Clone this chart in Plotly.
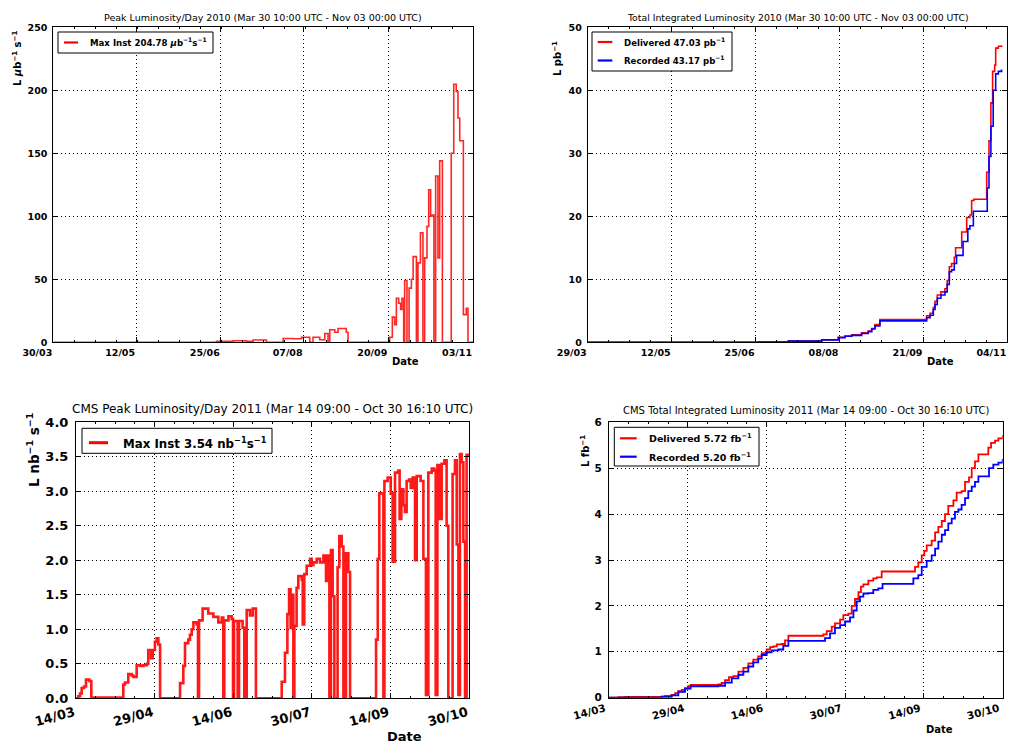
import pandas as pd
import plotly.graph_objects as go

W, H = 1010, 745
FONT = "DejaVu Sans"

# ---------------- data ----------------
# 2010 peak luminosity per day (days since 30 Mar 2010, value in microbarn^-1 s^-1)
peak10_start = "2010-03-30"
peak10_day = [0, 84.8, 93.4, 100.3, 103.8, 110.7, 119.4, 124.6, 128.9, 133.2, 134.9, 138.4,
              141.0, 142.7, 143.6, 146.2, 147.9, 152.2, 153.1, 174.7, 176.1, 177.3, 178.2,
              179.4, 180.4, 181.1, 182.0, 182.5, 183.7, 184.8, 186.0, 186.9, 188.6, 189.4,
              190.7, 192.0, 192.9, 194.1, 195.0, 196.0, 196.7, 197.7, 198.6, 199.8, 200.7,
              202.1, 206.7, 208.0, 209.3, 210.2, 211.1, 213.0, 214.5, 215.4, 218.0]
peak10_val = [0, 0.8, 1.2, 0.8, 1.8, 0, 3, 2.8, 4, 0, 4, 2,
              7, 0, 10, 8, 11, 8, 0, 4, 20, 14, 35,
              31, 26, 35, 0, 49, 0, 43, 50, 68, 0, 63,
              87, 0, 67, 92, 121, 100, 101, 0, 132, 67, 144,
              0, 150, 204.78, 199, 178, 160, 22, 27, 0, 0]

# 2010 integrated luminosity (days since 29 Mar 2010, pb^-1)
int10_start = "2010-03-29"
int10_del_day = [0, 89.5, 105.2, 122.7, 131.4, 134.9, 138.4, 143.6, 147.1, 148.9, 150.6, 153.2,
                 177.7, 179.5, 181.2, 182.1, 183.3, 185.2, 187.3, 188.5, 189.6, 190.8, 192.2,
                 192.9, 196.1, 198.7, 200.4, 201.3, 202.5, 209.2, 210.4, 211.4, 212.3, 213.4,
                 213.9, 215.3, 217.0, 217.4]
int10_del_val = [0, 0.02, 0.2, 0.4, 0.8, 1.0, 1.2, 1.5, 1.8, 2.2, 2.8, 3.6,
                 4.2, 4.6, 5.5, 6.5, 7.5, 8.0, 8.5, 9.8, 12.0, 12.5, 13.5,
                 15.0, 17.5, 19.8, 20.2, 22.5, 22.7, 27.0, 32.0, 38.0, 43.0, 44.0,
                 46.7, 47.0, 47.03, 47.03]
int10_rec_day = [0, 89.5, 105.2, 122.7, 131.4, 134.9, 138.4, 143.6, 147.1, 148.9, 150.6, 153.2,
                 177.7, 179.5, 181.2, 182.1, 183.3, 185.2, 187.3, 188.5, 189.6, 190.8, 192.2,
                 193.4, 196.8, 199.3, 200.4, 202.2, 209.5, 210.4, 211.4, 212.6, 213.9, 215.3,
                 217.0, 217.4]
int10_rec_val = [0, 0.02, 0.18, 0.38, 0.75, 0.95, 1.1, 1.4, 1.7, 2.1, 2.6, 3.4,
                 3.9, 4.3, 5.2, 6.0, 7.0, 7.5, 8.0, 9.2, 11.2, 11.5, 12.5,
                 13.8, 16.0, 18.0, 18.5, 20.8, 24.5, 29.5, 34.3, 40.0, 42.6, 43.0,
                 43.17, 43.17]

# 2011 peak luminosity per day (days since 14 Mar 2011, nb^-1 s^-1)
peak11_start = "2011-03-14"
peak11_day = [0, 1.37, 2.34, 3.32, 4.68, 5.85, 7.8, 8.97, 27.7, 28.7, 30.6, 32.6, 33.6, 35.5,
              37.5, 39.4, 41.4, 42.3, 43.9, 44.9, 46.2, 47.2, 48.2, 49.2, 60.9, 62.8, 63.8,
              65.7, 66.7, 67.7, 68.7, 70.6, 71.4, 72.0, 74.1, 77.4, 80.4, 83.3, 85.3, 86.2,
              86.8, 89.2, 91.1, 91.9, 92.5, 94.6, 95.4, 97.5, 98.5, 99.9, 101.8, 103.4, 105.3,
              120.4, 122.3, 123.7, 124.7, 125.6, 126.4, 127.2, 127.8, 129.1, 130.1, 132.1,
              132.7, 133.6, 135.0, 137.0, 137.9, 138.9, 140.9, 142.8, 144.8, 146.3, 147.3,
              148.3, 149.2, 150.2, 151.2, 153.1, 154.1, 155.5, 156.5, 158.0, 159.4, 160.4,
              175.6, 176.6, 177.5, 179.9, 180.5, 182.4, 184.2, 185.3, 186.7, 188.6, 189.4,
              190.4, 191.6, 192.5, 193.5, 194.9, 195.9, 197.0, 198.4, 199.4, 201.7, 203.3,
              204.8, 206.2, 208.2, 209.7, 210.5, 211.5, 213.0, 214.0, 215.6, 216.9, 217.9,
              220.4, 221.8, 222.8, 223.8, 224.7, 225.7, 226.7, 227.7, 228.6, 230.0]
peak11_val = [0, 0.03, 0.07, 0.15, 0.17, 0.27, 0.25, 0.01, 0.2, 0.23, 0.35, 0.33, 0.31, 0.48,
              0.47, 0.48, 0.5, 0.7, 0.58, 0.7, 0.82, 0.87, 0.78, 0.0, 0.22, 0.47, 0.8,
              0.85, 0.92, 1.0, 1.1, 1.07, 0.0, 1.13, 1.3, 1.23, 1.18, 1.1, 1.17, 0.0,
              1.13, 1.19, 1.15, 0.0, 1.12, 0.0, 1.12, 1.02, 0.0, 1.28, 1.2, 1.3, 0.0,
              0.24, 0.66, 1.22, 1.58, 1.02, 1.5, 0.0, 1.05, 1.6, 1.77, 1.72,
              1.07, 1.8, 1.92, 2.02, 1.93, 1.97, 2.02, 1.97, 2.07, 1.7, 2.07,
              0.0, 2.15, 1.48, 0.0, 1.9, 2.35, 2.2, 0.0, 2.1, 1.83, 0.0,
              0.85, 2.02, 2.97, 0.0, 3.15, 3.2, 2.97, 1.98, 3.27, 3.3, 2.6,
              3.03, 2.8, 2.7, 3.15, 3.17, 3.05, 3.2, 2.0, 3.22, 3.15, 2.02,
              0.05, 3.27, 3.33, 3.3, 0.05, 3.38, 2.6, 3.4, 3.45, 2.5, 0.0,
              3.25, 3.45, 2.23, 0.05, 3.54, 3.42, 2.27, 0.0, 3.53, 3.53]

# 2011 integrated luminosity (days since 14 Mar 2011, fb^-1)
int11_start = "2011-03-14"
int11_del_day = [0, 5.5, 9.3, 30.8, 32.7, 36.6, 38.6, 40.5, 42.5, 44.4, 46.3, 47.7, 63.9, 65.8,
                 67.8, 70.1, 72.6, 75.6, 78.5, 81.4, 84.3, 87.2, 89.2, 92.1, 94.1, 96.0, 98.0,
                 100.9, 102.8, 104.8, 123.3, 125.2, 127.2, 130.1, 132.0, 135.0, 136.9, 139.8,
                 141.8, 143.7, 145.7, 147.2, 148.6, 151.5, 154.4, 156.4, 159.3, 176.8, 178.8,
                 180.7, 182.7, 184.2, 185.6, 188.5, 190.5, 192.4, 194.4, 196.3, 198.2, 201.2,
                 203.1, 206.0, 208.0, 210.3, 211.9, 213.8, 215.8, 220.6, 221.6, 223.2, 225.5,
                 227.5, 230.0]
int11_del_val = [0, 0.01, 0.02, 0.03, 0.04, 0.06, 0.1, 0.14, 0.17, 0.2, 0.25, 0.28, 0.29, 0.32,
                 0.38, 0.45, 0.47, 0.57, 0.65, 0.75, 0.83, 0.9, 0.97, 1.05, 1.1, 1.12, 1.16,
                 1.17, 1.25, 1.35, 1.35, 1.38, 1.45, 1.55, 1.62, 1.7, 1.8, 1.83,
                 2.0, 2.15, 2.3, 2.42, 2.47, 2.55, 2.6, 2.62, 2.75, 2.75, 2.85,
                 2.95, 3.1, 3.2, 3.32, 3.42, 3.6, 3.72, 3.85, 4.0, 4.18, 4.3,
                 4.47, 4.5, 4.7, 4.8, 5.0, 5.15, 5.3, 5.3, 5.45, 5.55, 5.6,
                 5.65, 5.72]
int11_rec_day = [0, 30.8, 36.6, 40.5, 44.4, 47.7, 63.9, 67.8, 71.7, 75.6, 78.5, 81.4, 84.3,
                 87.2, 89.2, 92.1, 95.0, 98.9, 101.8, 104.8, 123.3, 126.2, 129.1, 132.0, 135.0,
                 137.9, 140.8, 142.8, 144.7, 146.6, 148.6, 151.5, 154.4, 157.3, 159.8, 175.9,
                 177.8, 180.7, 182.7, 185.6, 188.5, 190.5, 192.4, 194.4, 196.3, 198.2, 200.2,
                 202.1, 204.1, 206.0, 208.0, 209.9, 211.9, 213.8, 215.8, 220.6, 222.0, 224.5,
                 227.5, 230.0]
int11_rec_val = [0, 0.02, 0.05, 0.13, 0.2, 0.25, 0.26, 0.33, 0.42, 0.5, 0.57, 0.68, 0.77,
                 0.85, 0.93, 0.99, 1.03, 1.05, 1.13, 1.24, 1.24, 1.3, 1.4, 1.52, 1.58,
                 1.66, 1.75, 1.9, 2.1, 2.2, 2.27, 2.28, 2.35, 2.38, 2.48, 2.48,
                 2.6, 2.67, 2.85, 2.98, 3.1, 3.25, 3.4, 3.55, 3.65, 3.8, 3.9,
                 4.05, 4.1, 4.2, 4.35, 4.5, 4.6, 4.7, 4.82, 4.82, 5.0, 5.08,
                 5.12, 5.2]

# tick dates
ticks_peak10 = ["2010-03-30", "2010-05-12", "2010-06-25", "2010-08-07", "2010-09-20", "2010-11-03"]
ticks_int10 = ["2010-03-29", "2010-05-12", "2010-06-25", "2010-08-08", "2010-09-21", "2010-11-04"]
ticks_2011 = ["2011-03-14", "2011-04-29", "2011-06-14", "2011-07-30", "2011-09-14", "2011-10-30"]

titles = ["Peak Luminosity/Day 2010 (Mar 30 10:00 UTC - Nov 03 00:00 UTC)",
          "Total Integrated Luminosity 2010 (Mar 30 10:00 UTC - Nov 03 00:00 UTC)",
          "CMS Peak Luminosity/Day 2011 (Mar 14 09:00 - Oct 30 16:10 UTC)",
          "CMS Total Integrated Luminosity 2011 (Mar 14 09:00 - Oct 30 16:10 UTC)"]
legend_peak10 = ["Max Inst 204.78 <i>μ</i>b<sup>−1</sup>s<sup>−1</sup>"]
legend_int10 = ["Delivered 47.03 pb<sup>−1</sup>", "Recorded 43.17 pb<sup>−1</sup>"]
legend_peak11 = ["Max Inst 3.54 nb<sup>−1</sup>s<sup>−1</sup>"]
legend_int11 = ["Delivered 5.72 fb<sup>−1</sup>", "Recorded 5.20 fb<sup>−1</sup>"]

RED, BLUE = "#ff0000", "#0000ff"


def to_dates(start, days):
    t0 = pd.Timestamp(start)
    return [t0 + pd.Timedelta(days=d) for d in days]


def px(x):
    return x / W


def py(y):
    return 1 - y / H


fig = go.Figure()
fig.add_trace(go.Scatter(x=to_dates(peak10_start, peak10_day), y=peak10_val, mode="lines",
                         line=dict(color="rgba(255,0,0,0.85)", width=1.6, shape="hv"),
                         name=legend_peak10[0], xaxis="x", yaxis="y"))
fig.add_trace(go.Scatter(x=to_dates(int10_start, int10_del_day), y=int10_del_val, mode="lines",
                         line=dict(color=RED, width=1.6, shape="hv"),
                         name=legend_int10[0], xaxis="x2", yaxis="y2"))
fig.add_trace(go.Scatter(x=to_dates(int10_start, int10_rec_day), y=int10_rec_val, mode="lines",
                         line=dict(color=BLUE, width=1.6, shape="hv"),
                         name=legend_int10[1], xaxis="x2", yaxis="y2"))
fig.add_trace(go.Scatter(x=to_dates(peak11_start, peak11_day), y=peak11_val, mode="lines",
                         line=dict(color="rgba(255,0,0,0.9)", width=2.6, shape="hv"),
                         name=legend_peak11[0], xaxis="x3", yaxis="y3"))
fig.add_trace(go.Scatter(x=to_dates(int11_start, int11_del_day), y=int11_del_val, mode="lines",
                         line=dict(color=RED, width=1.8, shape="hv"),
                         name=legend_int11[0], xaxis="x4", yaxis="y4"))
fig.add_trace(go.Scatter(x=to_dates(int11_start, int11_rec_day), y=int11_rec_val, mode="lines",
                         line=dict(color=BLUE, width=1.8, shape="hv"),
                         name=legend_int11[1], xaxis="x4", yaxis="y4"))

DAY_MS = 86400000


def xaxis(domain, anchor, tickvals, rng, size, angle, shift, standoff, minor_days):
    return dict(domain=domain, anchor=anchor, type="date", range=rng, automargin=False,
                tickvals=tickvals, tickformat="%d/%m", tickangle=angle,
                ticklabelposition="outside left" if angle == 0 else "outside",
                ticklabelshift=shift, ticklabelstandoff=standoff,
                tickfont=dict(family=FONT, size=size, color="black", weight="bold"),
                ticks="inside", ticklen=5, tickcolor="black", tickwidth=1,
                showline=True, linecolor="black", linewidth=1, mirror="ticks",
                showgrid=True, gridcolor="black", gridwidth=1, griddash="1px,3px",
                zeroline=False, fixedrange=True,
                minor=dict(ticks="inside", ticklen=2, tickcolor="black", showgrid=False,
                           tick0=tickvals[0], dtick=minor_days * DAY_MS))


def yaxis(domain, anchor, rng, dtick, size, fmt, standoff):
    return dict(domain=domain, anchor=anchor, range=rng, dtick=dtick, tick0=0,
                tickformat=fmt, automargin=False, ticklabelstandoff=standoff,
                tickfont=dict(family=FONT, size=size, color="black", weight="bold"),
                ticks="inside", ticklen=5, tickcolor="black", tickwidth=1,
                showline=True, linecolor="black", linewidth=1, mirror="ticks",
                showgrid=True, gridcolor="black", gridwidth=1, griddash="1px,3px",
                zeroline=False, fixedrange=True)


d1x, d2x = [px(53.3), px(473)], [px(587.7), px(1007.3)]
d3x, d4x = [px(76), px(469)], [px(609), px(1002.7)]
dty = [py(342.3), py(27.3)]
d3y = [py(698.3), py(422.3)]
d4y = [py(697.7), py(422.3)]

fig.update_layout(
    width=W, height=H, margin=dict(l=0, r=0, t=0, b=0, autoexpand=False),
    paper_bgcolor="white", plot_bgcolor="white", showlegend=False,
    xaxis=xaxis(d1x, "y", ticks_peak10, ["2010-03-30", "2010-11-03"], 9.5, 0, 0, 1, 43.6 / 4),
    yaxis=yaxis(dty, "x", [0, 250], 50, 9.5, "d", 3),
    xaxis2=xaxis(d2x, "y2", ticks_int10, ["2010-03-29", "2010-11-04"], 9.5, 0, 0, 1, 11),
    yaxis2=yaxis(dty, "x2", [0, 50], 10, 9.5, "d", 3),
    xaxis3=xaxis(d3x, "y3", ticks_2011, ["2011-03-14", "2011-10-30"], 13, -15, -2, 1, 11.5),
    yaxis3=yaxis(d3y, "x3", [0, 4], 0.5, 13, ".1f", 4),
    xaxis4=xaxis(d4x, "y4", ticks_2011, ["2011-03-14", "2011-10-30"], 10.5, -15, -4, 0, 11.5),
    yaxis4=yaxis(d4y, "x4", [0, 6], 1, 10.5, "d", 4),
)

# legends (box, line samples, labels)
legends = [
    # box x0, y0, x1, y1, sample x0, x1, text x, font size, [(y, color, label)]
    (58, 32, 213, 53, 64, 78, 88, 8.6, [(42.5, RED, legend_peak10[0])]),
    (592, 32, 732, 71, 597.7, 612.3, 621.7, 8.6, [(42, RED, legend_int10[0]), (60.5, BLUE, legend_int10[1])]),
    (82, 428.3, 272, 453.3, 89, 108, 120.7, 11.8, [(442.7, RED, legend_peak11[0])]),
    (614.3, 427.3, 759, 466, 620, 636.7, 646.7, 9.5, [(438.3, RED, legend_int11[0]), (456.7, BLUE, legend_int11[1])]),
]
for bx0, by0, bx1, by1, sx0, sx1, tx, fs, items in legends:
    fig.add_shape(type="rect", xref="paper", yref="paper", x0=px(bx0), x1=px(bx1),
                  y0=py(by1), y1=py(by0), line=dict(color="black", width=1),
                  fillcolor="white", layer="above")
    for yy, col, label in items:
        fig.add_shape(type="line", xref="paper", yref="paper", x0=px(sx0), x1=px(sx1),
                      y0=py(yy), y1=py(yy), line=dict(color=col, width=2.2 if fs < 11 else 3),
                      layer="above")
        fig.add_annotation(text=label, x=px(tx), y=py(yy), xref="paper", yref="paper",
                           xanchor="left", yanchor="middle", showarrow=False,
                           font=dict(family=FONT, size=fs, color="black", weight="bold"))

ann = [
    (titles[0], 263, 17, 9.5, "normal", 0),
    (titles[1], 797.5, 17, 9.3, "normal", 0),
    (titles[2], 272.5, 409, 12, "normal", 0),
    (titles[3], 806, 411, 10, "normal", 0),
    ("L <i>μ</i>b<sup>−1</sup> s<sup>−1</sup>", 17, 59, 10, "bold", -90),
    ("L pb<sup>−1</sup>", 557, 59, 10, "bold", -90),
    ("L nb<sup>−1</sup> s<sup>−1</sup>", 33, 450, 13.5, "bold", -90),
    ("L fb<sup>−1</sup>", 585, 451, 10, "bold", -90),
    ("Date", 405, 362, 10, "bold", 0),
    ("Date", 940, 362, 10, "bold", 0),
    ("Date", 404, 736, 13, "bold", 0),
    ("Date", 939, 729, 10, "bold", 0),
]
for text, x, y, size, weight, angle in ann:
    fig.add_annotation(text=text, x=px(x), y=py(y), xref="paper", yref="paper",
                       xanchor="center", yanchor="middle", showarrow=False, textangle=angle,
                       font=dict(family=FONT, size=size, color="black", weight=weight))

fig.write_html("out.html", config={"displayModeBar": False},
               post_script="document.body.style.margin='0px';document.body.style.overflow='hidden';")
